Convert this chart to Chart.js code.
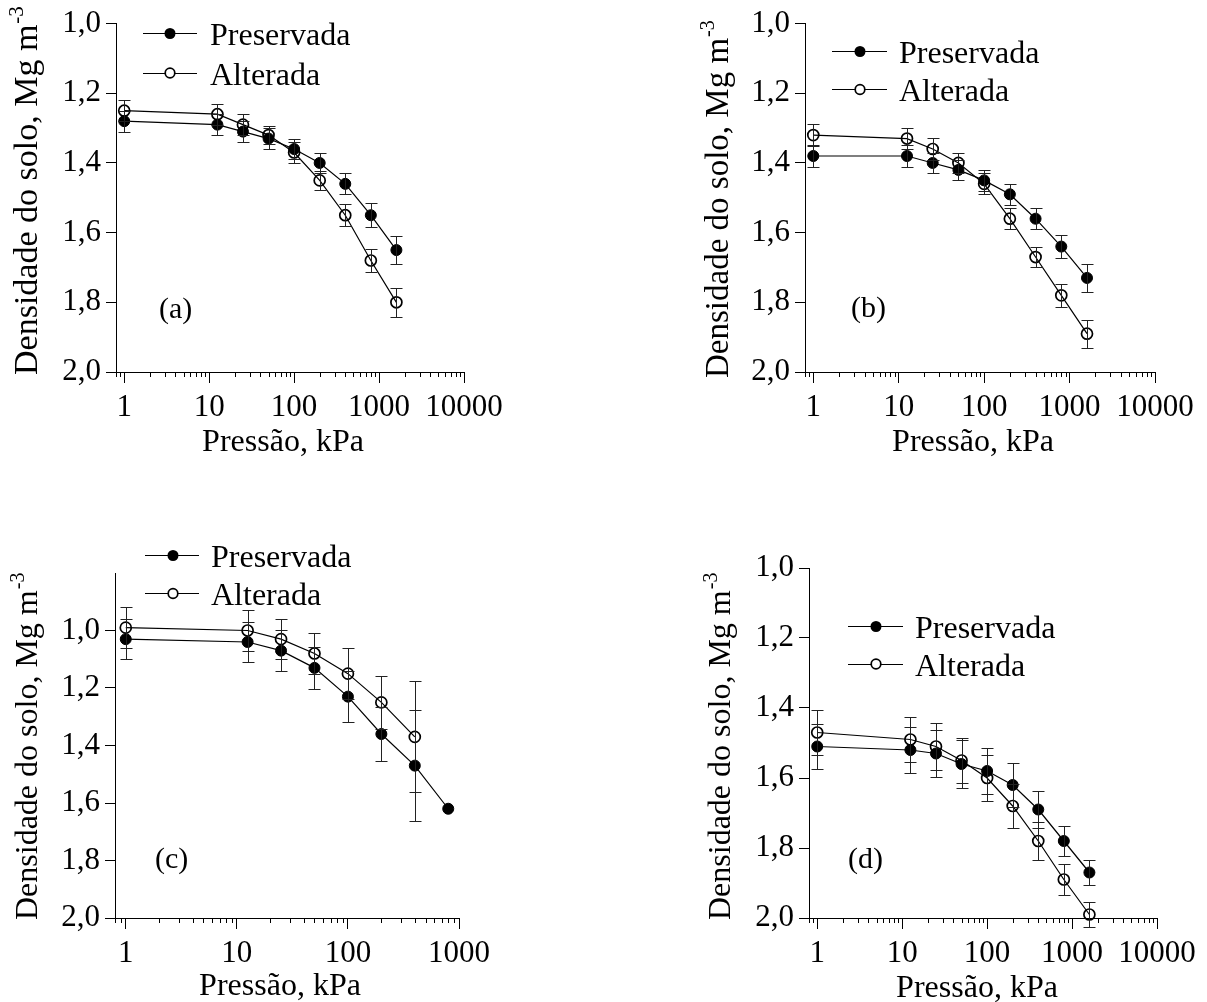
<!DOCTYPE html>
<html><head><meta charset="utf-8">
<script src="https://cdn.jsdelivr.net/npm/chart.js@4.4.0/dist/chart.umd.min.js"></script>
<style>
html,body{margin:0;padding:0;background:#fff;}
body{width:1207px;height:1002px;position:relative;overflow:hidden;}
canvas{position:absolute;}
</style></head><body>
<canvas id="ca" width="560" height="470" style="left:0px;top:0px"></canvas>
<canvas id="cb" width="517" height="470" style="left:690px;top:0px"></canvas>
<canvas id="cc" width="560" height="482" style="left:0px;top:520px"></canvas>
<canvas id="cd" width="517" height="482" style="left:690px;top:520px"></canvas>
<script>
// ---------------- DATA ----------------
const seriesNames = ['Preservada', 'Alterada'];
const pressures = [1, 12.5, 25, 50, 100, 200, 400, 800, 1600];
const pressuresCPres = [1, 12.5, 25, 50, 100, 200, 400, 800];
const pressuresCAlt = [1, 12.5, 25, 50, 100, 200, 400];

// (a)
const aPres = [1.28, 1.29, 1.31, 1.33, 1.36, 1.40, 1.46, 1.55, 1.65];
const aPresErr = [0.03, 0.03, 0.03, 0.03, 0.03, 0.03, 0.03, 0.035, 0.04];
const aAlt = [1.25, 1.26, 1.29, 1.32, 1.37, 1.45, 1.55, 1.68, 1.80];
const aAltErr = [0.03, 0.03, 0.03, 0.025, 0.03, 0.028, 0.031, 0.033, 0.042];
// (b)
const bPres = [1.38, 1.38, 1.40, 1.42, 1.45, 1.49, 1.56, 1.64, 1.73];
const bPresErr = [0.032, 0.032, 0.03, 0.028, 0.03, 0.03, 0.03, 0.033, 0.039];
const bAlt = [1.32, 1.33, 1.36, 1.40, 1.46, 1.56, 1.67, 1.78, 1.89];
const bAltErr = [0.032, 0.03, 0.032, 0.028, 0.03, 0.03, 0.03, 0.032, 0.04];
// (c)
const cPres = [1.03, 1.04, 1.07, 1.13, 1.23, 1.36, 1.47, 1.62];
const cPresErr = [0.07, 0.07, 0.07, 0.072, 0.088, 0.095, 0.194, 0];
const cAlt = [0.99, 1.00, 1.03, 1.08, 1.15, 1.25, 1.37];
const cAltErr = [0.072, 0.07, 0.07, 0.07, 0.088, 0.093, 0.193];
// (d)
const dPres = [1.51, 1.52, 1.53, 1.56, 1.58, 1.62, 1.69, 1.78, 1.87];
const dPresErr = [0.065, 0.066, 0.066, 0.068, 0.065, 0.063, 0.054, 0.043, 0.035];
const dAlt = [1.47, 1.49, 1.51, 1.55, 1.60, 1.68, 1.78, 1.89, 1.99];
const dAltErr = [0.064, 0.065, 0.066, 0.065, 0.065, 0.063, 0.053, 0.043, 0.035];

// ticks & labels
const yTicks = [1.0, 1.2, 1.4, 1.6, 1.8, 2.0];
const xMajor4 = [1, 10, 100, 1000, 10000];
const xLabels4 = ['1', '10', '100', '1000', '10000'];
const xMajor3 = [1, 10, 100, 1000];
const xLabels3 = ['1', '10', '100', '1000'];
const panelLabels = ['(a)', '(b)', '(c)', '(d)'];
const yTitleMain = 'Densidade do solo, Mg m';
const yTitleSup = '-3';
const xTitle = 'Pressão, kPa';

function minorTicks(maxVal) {
  const out = [0.8, 0.9];
  for (let dec = 1; dec < maxVal; dec *= 10) {
    for (let k = 2; k <= 9; k++) out.push(k * dec);
  }
  return out;
}

const FONT = '"Liberation Serif", "Times New Roman", serif';

function makePanel(p) {
  const canvas = document.getElementById(p.id);
  const W = canvas.width, H = canvas.height;
  const ox = p.left, oy = p.top;
  const minors = minorTicks(p.xMax);

  const datasets = [
    {
      label: seriesNames[0],
      data: p.xs[0].map((x, i) => ({x: x, y: p.ys[0][i]})),
      errors: p.errs[0],
      borderColor: '#000', borderWidth: 1.2,
      pointRadius: 5.5, pointBackgroundColor: '#000', pointBorderColor: '#000', pointBorderWidth: 1,
      fill: false, tension: 0, clip: false, pointStyle: 'circle'
    },
    {
      label: seriesNames[1],
      data: p.xs[1].map((x, i) => ({x: x, y: p.ys[1][i]})),
      errors: p.errs[1],
      borderColor: '#000', borderWidth: 1.2,
      pointRadius: 5.5, pointBackgroundColor: 'rgba(255,255,255,0)', pointBorderColor: '#000', pointBorderWidth: 1.7,
      fill: false, tension: 0, clip: false, pointStyle: 'circle'
    }
  ];

  const decor = {
    id: 'decor',
    afterDatasetsDraw(chart) {
      const {ctx, scales: {x, y}} = chart;
      ctx.save();
      ctx.strokeStyle = '#222';
      ctx.lineWidth = 1;
      chart.data.datasets.forEach(ds => {
        ds.data.forEach((pt, j) => {
          const e = ds.errors[j];
          if (!e) return;
          const px = Math.round(x.getPixelForValue(pt.x)) + 0.5;
          const y1 = Math.round(y.getPixelForValue(pt.y - e)) + 0.5;
          const y2 = Math.round(y.getPixelForValue(pt.y + e)) + 0.5;
          ctx.beginPath();
          ctx.moveTo(px, y1); ctx.lineTo(px, y2);
          ctx.moveTo(px - 6, y1); ctx.lineTo(px + 6, y1);
          ctx.moveTo(px - 6, y2); ctx.lineTo(px + 6, y2);
          ctx.stroke();
        });
      });
      ctx.restore();
    },
    afterDraw(chart) {
      const {ctx, scales: {x}, chartArea} = chart;
      ctx.save();
      // minor ticks on x axis
      ctx.strokeStyle = '#000';
      ctx.lineWidth = 1;
      ctx.beginPath();
      minors.forEach(v => {
        const px = Math.round(x.getPixelForValue(v)) + 0.5;
        ctx.moveTo(px, chartArea.bottom);
        ctx.lineTo(px, chartArea.bottom + 5);
      });
      ctx.stroke();

      ctx.fillStyle = '#000';
      // legend
      const L = p.legend;
      chart.data.datasets.forEach((ds, i) => {
        const ry = L.rows[i] - oy;
        ctx.beginPath();
        ctx.strokeStyle = '#000';
        ctx.lineWidth = 1.2;
        ctx.moveTo(L.x1 - ox, Math.round(ry) + 0.5);
        ctx.lineTo(L.x2 - ox, Math.round(ry) + 0.5);
        ctx.stroke();
        ctx.beginPath();
        ctx.arc(L.mx - ox, ry + 0.5, i === 0 ? 5.5 : 4.8, 0, Math.PI * 2);
        if (i === 0) { ctx.fillStyle = '#000'; ctx.fill(); }
        else { ctx.fillStyle = '#fff'; ctx.fill(); ctx.lineWidth = 1.7; ctx.stroke(); }
        ctx.fillStyle = '#000';
        ctx.font = '32px ' + FONT;
        ctx.textAlign = 'left';
        ctx.textBaseline = 'alphabetic';
        ctx.fillText(ds.label, L.tx - ox, ry + 12);
      });

      // panel label
      ctx.font = '30px ' + FONT;
      ctx.textAlign = 'left';
      ctx.textBaseline = 'alphabetic';
      ctx.fillText(p.panelLabel, p.plx - ox, p.ply - oy);

      // x title
      ctx.font = '32px ' + FONT;
      ctx.textAlign = 'center';
      ctx.fillText(xTitle, p.xtX - ox, p.xtY - oy);

      // y title (rotated, with superscript)
      ctx.translate(p.ytX - ox, p.ytY - oy);
      ctx.rotate(-Math.PI / 2);
      ctx.textAlign = 'left';
      ctx.font = p.ytSize + 'px ' + FONT;
      ctx.fillText(yTitleMain, 0, 0);
      const w = ctx.measureText(yTitleMain).width;
      ctx.font = Math.round(p.ytSize * 0.62) + 'px ' + FONT;
      ctx.fillText(yTitleSup, w + 1, -Math.round(p.ytSize * 0.42));
      ctx.restore();
    }
  };

  new Chart(canvas, {
    type: 'line',
    data: {datasets: datasets},
    options: {
      responsive: false,
      animation: false,
      events: [],
      layout: {padding: {left: 0, top: p.plot.t - oy, right: (ox + W) - p.plot.r, bottom: 0}},
      plugins: {legend: {display: false}, tooltip: {enabled: false}},
      scales: {
        x: {
          type: 'logarithmic',
          position: 'bottom',
          min: 0.8,
          max: p.xMax,
          afterBuildTicks: s => { s.ticks = p.majors.map(v => ({value: v, major: true})); },
          afterFit: s => { s.height = (oy + H) - p.plot.b; },
          grid: {drawOnChartArea: false, drawTicks: true, tickLength: 11, color: '#000', lineWidth: 1},
          border: {display: true, color: '#000', width: 1},
          ticks: {
            autoSkip: false, maxRotation: 0, minRotation: 0, padding: 6, color: '#000',
            font: {family: FONT, size: 31},
            callback: (v, i) => p.majorLabels[i]
          }
        },
        y: {
          type: 'linear',
          position: 'left',
          reverse: true,
          min: p.yMin,
          max: 2.0,
          afterBuildTicks: s => { s.ticks = yTicks.map(v => ({value: v})); },
          afterFit: s => { s.width = p.plot.l - ox; },
          grid: {drawOnChartArea: false, drawTicks: true, tickLength: 10, color: '#000', lineWidth: 1},
          border: {display: true, color: '#000', width: 1},
          ticks: {
            padding: 5, color: '#000',
            font: {family: FONT, size: 31},
            callback: v => Number(v).toFixed(1).replace('.', ',')
          }
        }
      }
    },
    plugins: [decor]
  });
}

makePanel({
  id: 'ca', left: 0, top: 0, plot: {l: 116, t: 23, r: 464, b: 372},
  xMax: 10000, majors: xMajor4, majorLabels: xLabels4, yMin: 1.0,
  xs: [pressures, pressures], ys: [aPres, aAlt], errs: [aPresErr, aAltErr],
  legend: {x1: 143, x2: 197, mx: 170, tx: 210, rows: [33, 72.5]},
  panelLabel: panelLabels[0], plx: 159, ply: 318,
  xtX: 283, xtY: 451, ytX: 37, ytY: 375, ytSize: 34
});
makePanel({
  id: 'cb', left: 690, top: 0, plot: {l: 805, t: 23, r: 1155, b: 372},
  xMax: 10000, majors: xMajor4, majorLabels: xLabels4, yMin: 1.0,
  xs: [pressures, pressures], ys: [bPres, bAlt], errs: [bPresErr, bAltErr],
  legend: {x1: 832, x2: 887, mx: 860, tx: 899, rows: [51, 89]},
  panelLabel: panelLabels[1], plx: 851, ply: 317,
  xtX: 973, xtY: 451, ytX: 728, ytY: 378, ytSize: 33
});
makePanel({
  id: 'cc', left: 0, top: 520, plot: {l: 115, t: 573, r: 459, b: 918},
  xMax: 1000, majors: xMajor3, majorLabels: xLabels3, yMin: 0.8,
  xs: [pressuresCPres, pressuresCAlt], ys: [cPres, cAlt], errs: [cPresErr, cAltErr],
  legend: {x1: 145, x2: 199, mx: 173, tx: 211, rows: [555, 593]},
  panelLabel: panelLabels[2], plx: 155, ply: 868,
  xtX: 280, xtY: 995, ytX: 37, ytY: 920, ytSize: 32
});
makePanel({
  id: 'cd', left: 690, top: 520, plot: {l: 809, t: 568, r: 1157, b: 918},
  xMax: 10000, majors: xMajor4, majorLabels: xLabels4, yMin: 1.0,
  xs: [pressures, pressures], ys: [dPres, dAlt], errs: [dPresErr, dAltErr],
  legend: {x1: 848, x2: 903, mx: 876, tx: 915, rows: [626, 663.5]},
  panelLabel: panelLabels[3], plx: 848, ply: 868,
  xtX: 977, xtY: 997, ytX: 730, ytY: 920, ytSize: 32
});
</script>
</body></html>
